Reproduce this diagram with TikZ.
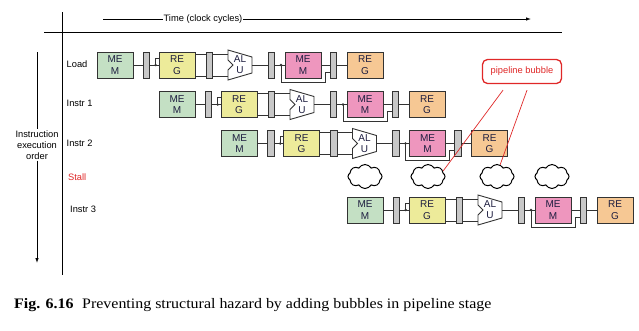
\documentclass[tikz,border=0pt]{standalone}
\usepackage{fontspec}
\setmainfont{Liberation Sans}
\newfontfamily\capfont[FakeStretch=1.1]{Liberation Serif}
\usetikzlibrary{arrows.meta,shapes.symbols,calc}
\definecolor{memg}{HTML}{C4E0C4}
\definecolor{regy}{HTML}{EDEB9A}
\definecolor{memp}{HTML}{EE96BE}
\definecolor{rego}{HTML}{F6C894}
\definecolor{latchg}{HTML}{C8C8C8}
\definecolor{edge}{HTML}{333333}
\definecolor{ink}{HTML}{1E1E40}
\definecolor{bubred}{HTML}{E02828}
\newcommand\piperow[3]{%
  \node[stagebox, fill=memg] (#1mem) at ({#2+18},#3) {ME\\M};
  \node[latch] (#1la) at ({#2+49.25},#3) {};
  \node[stagebox, fill=regy] (#1reg) at ({#2+80},#3) {RE\\G};
  \node[latch] (#1lb) at ({#2+112.25},#3) {};
  \node[alubox] (#1alu) at ({#2+143},#3) {AL\\U};
  \node[latch] (#1lc) at ({#2+174.25},#3) {};
  \node[stagebox, fill=memp] (#1dm) at ({#2+206},#3) {ME\\M};
  \node[latch] (#1ld) at ({#2+236.5},#3) {};
  \node[stagebox, fill=rego] (#1wb) at ({#2+268},#3) {RE\\G};
  \coordinate (#1da) at ({#2+58.7},#3);
  \coordinate (#1db) at ({#2+184},#3);
  \draw[wire] ([shift={(-12pt,15pt)}]#1alu.center) -- ([shift={(12pt,8pt)}]#1alu.center)
     -- ([shift={(12pt,-8pt)}]#1alu.center) -- ([shift={(-12pt,-15pt)}]#1alu.center)
     -- ([shift={(-12pt,-5pt)}]#1alu.center) -- ([shift={(-7pt,0pt)}]#1alu.center)
     -- ([shift={(-12pt,5pt)}]#1alu.center) -- cycle;
  \draw[wire] (#1mem.east) -- (#1la.west);
  \draw[wire] (#1la.east) -- (#1reg.west);
  \fill[edge] (#1da) circle (1.3pt);
  \draw[wire] (#1da) |- ([yshift=7pt]#1reg.west);
  \draw[wire] ([yshift=11pt]#1reg.east) -- ([yshift=11pt]#1lb.west);
  \draw[wire] ([yshift=-11pt]#1reg.east) -- ([yshift=-11pt]#1lb.west);
  \draw[wire] ([yshift=11pt]#1lb.east) -- ([yshift=11pt]#1alu.west);
  \draw[wire] ([yshift=-11pt]#1lb.east) -- ([yshift=-11pt]#1alu.west);
  \draw[wire] (#1alu.east) -- (#1lc.west);
  \draw[wire] (#1lc.east) -- (#1dm.west);
  \fill[edge] (#1db) circle (1.3pt);
  \draw[wire] (#1db) |- ($(#1db)+(44,17)$) |- ([yshift=-7pt]#1ld.west);
  \draw[wire] (#1dm.east) -- (#1ld.west);
  \draw[wire] (#1ld.east) -- (#1wb.west);
}
\begin{document}
\begin{tikzpicture}[x=1pt,y=-1pt,
  every node/.style={font=\fontsize{9.3}{11}\selectfont, inner sep=0pt},
  stagebox/.style={draw=edge, line width=0.9pt, minimum width=36pt, minimum height=26pt, align=center, text=ink, font=\fontsize{10}{11.5}\selectfont},
  latch/.style={draw=edge, fill=latchg, line width=0.9pt, minimum width=6.5pt, minimum height=26pt},
  alubox/.style={minimum width=24pt, minimum height=30pt, align=center, text=ink, font=\fontsize{10}{11}\selectfont},
  wire/.style={draw=edge, line width=0.9pt},
  axis/.style={draw=black, line width=0.9pt},
  cloudy/.style={cloud, draw=black, line width=1pt, cloud puffs=8, cloud puff arc=120, aspect=1.4, minimum width=34pt, minimum height=24pt},
  redline/.style={draw=bubred, line width=0.7pt},
  rowlbl/.style={anchor=west}
]
\useasboundingbox[fill=white] (0,0) rectangle (639,330);
% axes
\coordinate (hx0) at (44,32); \coordinate (hx1) at (562,32);
\coordinate (vy0) at (62,12); \coordinate (vy1) at (62,275);
\draw[axis] (hx0) -- (hx1);
\draw[axis] (vy0) -- (vy1);
% time arrow
\node[inner sep=0.6pt] (time) at (203,19) {Time (clock cycles)};
\coordinate (t0) at (103,19); \coordinate (t1) at (531,19);
\draw[axis, line width=0.8pt] (t0) -- (time.west);
\draw[axis, line width=0.8pt, -{Latex[length=5pt,width=3.5pt]}] (time.east) -- (t1);
% order arrow
\node[align=center, inner sep=1pt] (order) at (37,145) {Instruction\\execution\\order};
\coordinate (o0) at (37,52); \coordinate (o1) at (37,263);
\draw[axis, line width=0.8pt] (o0) -- (order.north);
\draw[axis, line width=0.8pt, -{Latex[length=5pt,width=3.5pt]}] (order.south) -- (o1);
% row labels
\node[rowlbl] (lload) at (66.5,64.5) {Load};
\node[rowlbl] (li1) at (66.5,103.5) {Instr 1};
\node[rowlbl] (li2) at (66.5,143.5) {Instr 2};
\node[rowlbl, text=bubred] (lst) at (68,176.7) {Stall};
\node[rowlbl] (li3) at (70,209.5) {Instr 3};
% rows
\piperow{a}{97}{65}
\piperow{b}{159}{104.5}
\piperow{c}{221.5}{143.5}
\piperow{d}{347}{210}
% bubbles
\node[cloudy] (c1) at (365,176.5) {};
\node[cloudy] (c2) at (428,176.5) {};
\node[cloudy] (c3) at (497,176.5) {};
\node[cloudy] (c4) at (552,176.5) {};
\node[draw=bubred, line width=1.3pt, rounded corners=5pt, fill=white, minimum width=79pt, minimum height=24pt, text=bubred] (pb) at (522,71.5) {pipeline bubble};
\draw[redline] ([xshift=-19pt,yshift=-6pt]pb.south) -- (c2.20);
\draw[redline] ([xshift=5pt,yshift=-6pt]pb.south) -- (c3.75);
% caption
\node[anchor=base west, font=\capfont\bfseries\fontsize{14.5}{16}\selectfont] (figno) at (14,308) {Fig. 6.16};
\node[anchor=base west, font=\capfont\fontsize{14.5}{16}\selectfont] (cap) at (82,308) {Preventing structural hazard by adding bubbles in pipeline stage};
\end{tikzpicture}
\end{document}
